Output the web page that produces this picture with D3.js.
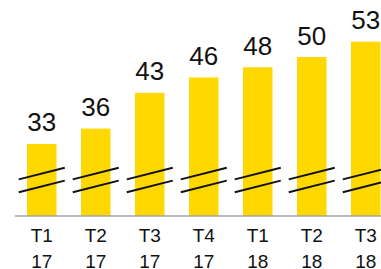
<!DOCTYPE html>
<html>
<head>
<meta charset="utf-8">
<script src="https://cdn.jsdelivr.net/npm/d3@7"></script>
<style>
  html, body { margin: 0; padding: 0; background: #fff; }
  svg { display: block; font-family: "Liberation Sans", Arial, Helvetica, sans-serif; }
</style>
</head>
<body>
<div id="chart"></div>
<script>
const quarters = ["T1", "T2", "T3", "T4", "T1", "T2", "T3"];
const years = ["17", "17", "17", "17", "18", "18", "18"];
const values = [33, 36, 43, 46, 48, 50, 53];

const width = 381;
const height = 269;
const baseY = 216;

const svg = d3.select("#chart")
  .append("svg")
  .attr("width", width)
  .attr("height", height);

const idx = d3.range(values.length);

const x = d3.scaleBand()
  .domain(idx)
  .range([14.75, 392.75])
  .paddingInner(0.4537)
  .paddingOuter(0.2269);

// broken axis: the bottom of the visible bars is not zero
const y = d3.scaleLinear()
  .domain([18.9, 53])
  .range([baseY, 41.7]);

// bars
svg.append("g")
  .selectAll("rect")
  .data(idx)
  .join("rect")
  .attr("x", i => x(i))
  .attr("y", i => y(values[i]))
  .attr("width", x.bandwidth())
  .attr("height", i => baseY - y(values[i]))
  .attr("fill", "#ffd800");

// break marks
const breakY = baseY - 36;
const breaks = svg.append("g")
  .attr("stroke", "#111")
  .attr("stroke-width", 2)
  .attr("stroke-linecap", "butt");

[-6.4, 6.4].forEach(off => {
  breaks.selectAll(null)
    .data(idx)
    .join("line")
    .attr("x1", i => x(i) + x.bandwidth() / 2 - 23)
    .attr("x2", i => x(i) + x.bandwidth() / 2 + 23)
    .attr("y1", breakY + off + 5.8)
    .attr("y2", breakY + off - 5.8);
});

// baseline
svg.append("line")
  .attr("x1", x.range()[0])
  .attr("x2", width)
  .attr("y1", baseY)
  .attr("y2", baseY)
  .attr("stroke", "#a3a3a3")
  .attr("stroke-width", 1.5);

// value labels
svg.append("g")
  .selectAll("text")
  .data(idx)
  .join("text")
  .attr("x", i => x(i) + x.bandwidth() / 2)
  .attr("y", i => y(values[i]) - 12.5)
  .attr("text-anchor", "middle")
  .attr("font-size", 26)
  .attr("fill", "#111")
  .text(i => values[i]);

// category labels
const ticks = svg.append("g")
  .selectAll("text")
  .data(idx)
  .join("text")
  .attr("x", i => x(i) + x.bandwidth() / 2)
  .attr("y", 242)
  .attr("text-anchor", "middle")
  .attr("font-size", 19)
  .attr("fill", "#111");

ticks.append("tspan").text(i => quarters[i]);
ticks.append("tspan")
  .attr("x", i => x(i) + x.bandwidth() / 2)
  .attr("dy", 25.5)
  .text(i => years[i]);
</script>
</body>
</html>
